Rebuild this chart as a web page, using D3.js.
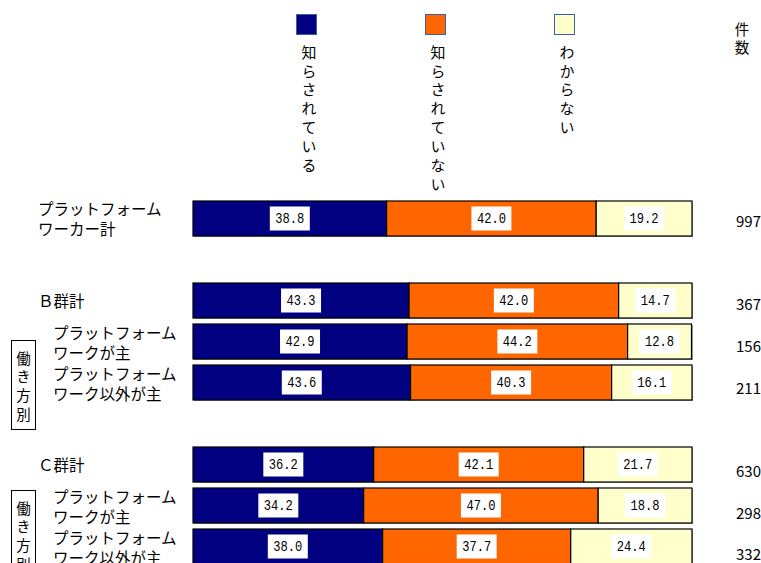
<!DOCTYPE html>
<html><head><meta charset="utf-8">
<script src="https://cdn.jsdelivr.net/npm/d3@7"></script>
<style>
html,body{margin:0;padding:0;background:#fff;}
svg{display:block;}
text{font-family:"Noto Sans CJK JP","Noto Sans",sans-serif;fill:#000;}
.vt{writing-mode:vertical-rl;text-orientation:upright;}
</style></head>
<body>
<svg id="chart" width="761" height="563"></svg>
<script>
// ---- data ----
const slots = ["all", "gap1", "B", "B1", "B2", "gap2", "C", "C1", "C2"];
const categories = ["all", "B", "B1", "B2", "C", "C1", "C2"];
const categoryLabels = [
  ["プラットフォーム", "ワーカー計"],
  ["Ｂ群計"],
  ["プラットフォーム", "ワークが主"],
  ["プラットフォーム", "ワーク以外が主"],
  ["Ｃ群計"],
  ["プラットフォーム", "ワークが主"],
  ["プラットフォーム", "ワーク以外が主"]
];
const categoryLevel = [0, 0, 1, 1, 0, 1, 1];
const seriesNames = ["知らされている", "知らされていない", "わからない"];
const seriesColors = ["#000080", "#FF6600", "#FFFFCC"];
const known = [38.8, 43.3, 42.9, 43.6, 36.2, 34.2, 38.0];
const notKnown = [42.0, 42.0, 44.2, 40.3, 42.1, 47.0, 37.7];
const dontKnow = [19.2, 14.7, 12.8, 16.1, 21.7, 18.8, 24.4];
const counts = [997, 367, 156, 211, 630, 298, 332];
const countHeader = "件数";
const groupBoxLabel = "働き方別";
const groupBoxRows = ["B1", "C1"];

// ---- layout ----
const svg = d3.select("#chart");
const x = d3.scaleLinear().domain([0, 100]).range([193, 692]);
const p = 6 / 41;
const y = d3.scaleBand().domain(slots).range([201, 201 + 8 * 41 + 35]).paddingInner(p).paddingOuter(0);
const yc = d3.scaleBand().domain(slots).range([203, 203 + 8 * 41.75 + 35]).paddingInner(p).paddingOuter(0);
const bw = y.bandwidth();

const rows = categories.map((c, i) => ({
  key: c, label: categoryLabels[i], level: categoryLevel[i],
  vals: [known[i], notKnown[i], dontKnow[i]], n: counts[i]
}));

// shadows
svg.append("g").selectAll("rect").data(rows).join("rect")
  .attr("x", x(0) + 1).attr("y", d => y(d.key) + 1)
  .attr("width", x(100) - x(0)).attr("height", bw)
  .attr("fill", "#a0a0a0");

// segments
const segs = [];
rows.forEach(r => {
  let acc = 0;
  r.vals.forEach((v, k) => {
    segs.push({ key: r.key, k, v, x0: acc, x1: acc + v });
    acc += v;
  });
});

svg.append("g").selectAll("rect").data(segs).join("rect")
  .attr("x", d => x(d.x0)).attr("y", d => y(d.key))
  .attr("width", d => x(Math.min(d.x1, 100)) - x(d.x0))
  .attr("height", bw)
  .attr("fill", d => seriesColors[d.k])
  .attr("stroke", "#000").attr("stroke-width", 1.2);

// value labels
const lab = svg.append("g").selectAll("g").data(segs).join("g")
  .attr("transform", d => `translate(${(x(d.x0) + x(Math.min(d.x1, 100))) / 2},${y(d.key) + bw / 2})`);
lab.append("rect").attr("x", -20).attr("y", -12).attr("width", 40).attr("height", 24).attr("fill", "#fff");
lab.append("text")
  .attr("text-anchor", "middle").attr("dominant-baseline", "central")
  .style("font-family", "'Liberation Mono','DejaVu Sans Mono',monospace")
  .style("font-size", "14px")
  .attr("textLength", 29).attr("lengthAdjust", "spacingAndGlyphs")
  .attr("fill", "#222")
  .text(d => d.v.toFixed(1));

// category labels
const cl = svg.append("g").selectAll("text").data(rows).join("text")
  .attr("x", d => d.level ? 53 : 38)
  .style("font-size", "15.5px");
cl.each(function (d) {
  const t = d3.select(this);
  const cy = y(d.key) + bw / 2;
  const n = d.label.length;
  d.label.forEach((s, i) => {
    t.append("tspan").attr("x", d.level ? 53 : 38)
      .attr("y", cy + (i - (n - 1) / 2) * 20 + (d.level ? 0 : -1))
      .attr("dominant-baseline", "central")
      .text(s);
  });
});

// counts
svg.append("g").selectAll("text").data(rows).join("text")
  .attr("x", 736).attr("y", d => yc(d.key) + bw / 2)
  .attr("dominant-baseline", "central")
  .style("font-size", "15px")
  .text(d => d.n);

// count header (vertical)
svg.append("text").attr("class", "vt")
  .attr("x", 742).attr("y", 22.5)
  .style("font-size", "14.5px").style("letter-spacing", "3.5px")
  .text(countHeader);

// legend
const lx = d3.scalePoint().domain(seriesNames).range([296, 554]);
const lg = svg.append("g").selectAll("g").data(seriesNames).join("g")
  .attr("transform", d => `translate(${lx(d)},14)`);
lg.append("rect").attr("x", 0.5).attr("y", 0.5).attr("width", 20).attr("height", 20)
  .attr("fill", (d, i) => seriesColors[i]).attr("stroke", "#3a5ea8").attr("stroke-width", 1);
lg.append("text").attr("class", "vt")
  .attr("x", 13).attr("y", 30.5)
  .style("font-size", "15px").style("letter-spacing", "3.9px")
  .text(d => d);

// group boxes
const boxOffsets = { B1: 16, C1: 2 };
const gb = svg.append("g").selectAll("g").data(groupBoxRows).join("g")
  .attr("transform", d => `translate(11,${y(d) + boxOffsets[d]})`);
gb.append("rect").attr("x", 0.5).attr("y", 0.5).attr("width", 24).attr("height", 89)
  .attr("fill", "#fff").attr("stroke", "#000").attr("stroke-width", 1);
gb.append("text").attr("class", "vt")
  .attr("x", 12.5).attr("y", 10.75)
  .style("font-size", "14.5px").style("letter-spacing", "4.2px")
  .text(groupBoxLabel);
</script>
</body></html>
